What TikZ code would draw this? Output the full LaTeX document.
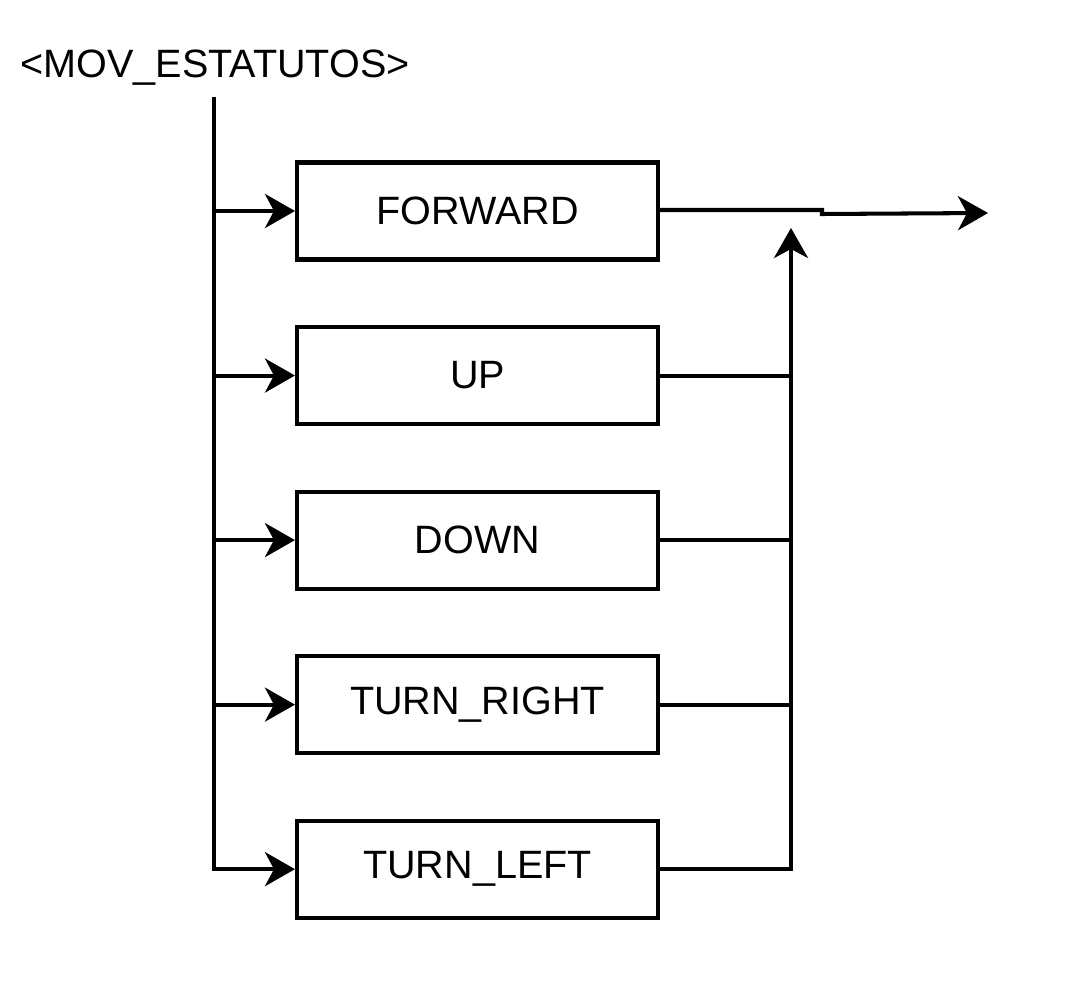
\documentclass[tikz,border=0pt]{standalone}
\usepackage{fontspec}
\setmainfont{Liberation Sans}
\usetikzlibrary{positioning}
\usetikzlibrary{arrows.meta}
\tikzset{%
  arr/.style = {-{Stealth[length=0.6cm,width=0.68cm,inset=0.18cm]}},
  ln/.style = {line width=2.3pt},
  b/.style = {rectangle,draw,line width=2.3pt,minimum width=7.22cm,
        minimum height=1.94cm,inner sep=0pt},
  txt/.style = {font=\fontsize{22.5}{27}\selectfont}
}
\begin{document}
\begin{tikzpicture}[every node/.append style={txt}]
\useasboundingbox (0,0) rectangle (21.6,-19.84);
\node (title) at (4.3,-1.36) {<MOV\_ESTATUTOS>};
\coordinate (top) at (4.28,-1.94);
\node[b] (fwd) at (9.55,-4.22) {FORWARD};
\node[b,below=1.27cm of fwd] (up) {UP};
\node[b,below=1.27cm of up] (down) {DOWN};
\node[b,below=1.27cm of down] (right) {TURN\_RIGHT};
\node[b,below=1.27cm of right] (left) {TURN\_LEFT};
\coordinate (merge) at (15.82,-4.56);
\coordinate (jog) at (16.44,-4.2);
\coordinate (exit) at (19.76,-4.26);
% left trunk
\draw[ln,arr] (top) |- (left.west);
\draw[ln,arr] (top |- fwd.west) -- (fwd.west);
\draw[ln,arr] (top |- up.west) -- (up.west);
\draw[ln,arr] (top |- down.west) -- (down.west);
\draw[ln,arr] (top |- right.west) -- (right.west);
% right side
\draw[ln,arr] (left.east) -| (merge);
\draw[ln] (up.east) -- (up.east -| merge);
\draw[ln] (down.east) -- (down.east -| merge);
\draw[ln] (right.east) -- (right.east -| merge);
\draw[ln,arr] (fwd.east |- jog) -- (jog) -- ++(0,-0.08) -- (exit);
\end{tikzpicture}
\end{document}
